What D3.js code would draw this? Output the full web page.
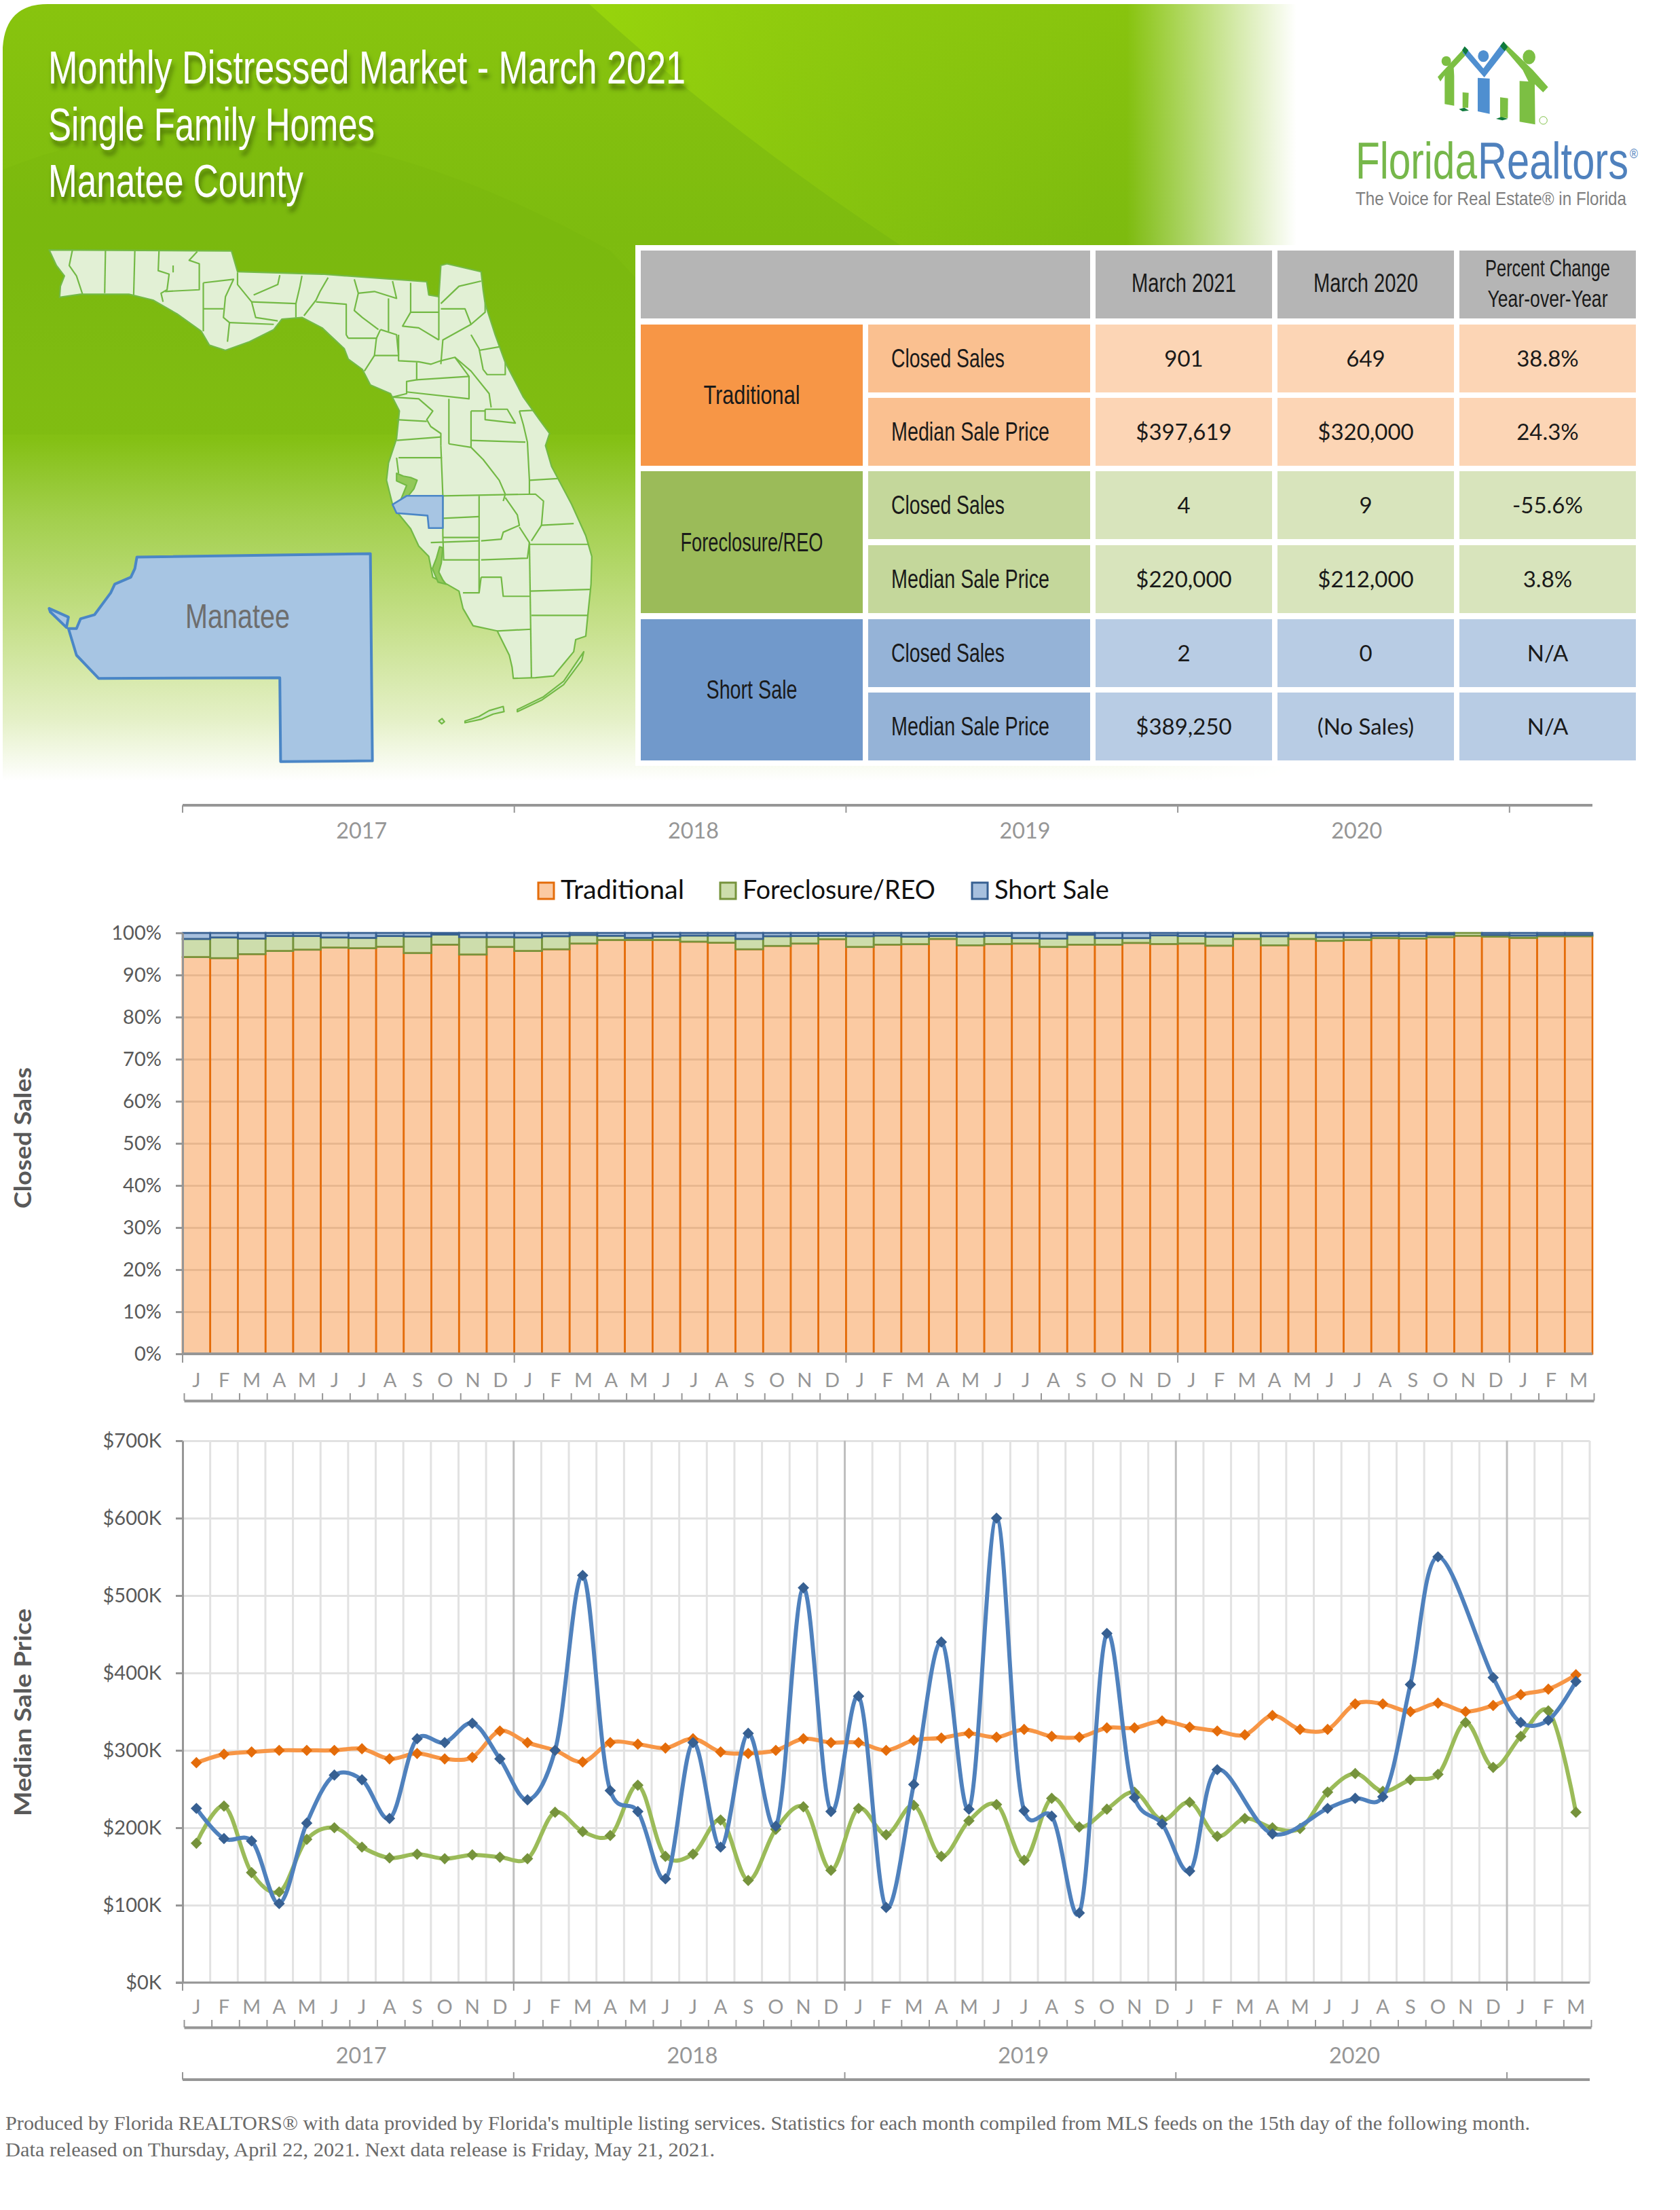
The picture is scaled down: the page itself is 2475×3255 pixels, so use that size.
<!DOCTYPE html>
<html>
<head>
<meta charset="utf-8">
<script src="https://cdn.jsdelivr.net/npm/d3@7"></script>
<style>
html, body { margin: 0; padding: 0; background: #fff; }
svg { display: block; }
text { font-family: Lato, "Open Sans", sans-serif; }
.narrow { font-family: "Liberation Sans Narrow", "Liberation Sans", sans-serif; }
.foot { font-family: "Liberation Serif", serif; fill: #6a6a6a; font-size: 30px; }
</style>
</head>
<body>
<div id="page"></div>
<script>
// ---- chart data ----
var monthLetters = ["J","F","M","A","M","J","J","A","S","O","N","D"];
var yearLabels = ["2017","2018","2019","2020"];
var monthCount = 51;
var percentTicks = [0,10,20,30,40,50,60,70,80,90,100];
var priceTicks = [0,100,200,300,400,500,600,700];
var seriesNames = ["Traditional","Foreclosure/REO","Short Sale"];

// closed sales, share of month in %
var traditionalShare = [94.25,94.0,94.95,95.7,96.0,96.5,96.35,96.7,95.2,97.2,94.85,96.65,
  95.7,96.1,97.45,98.3,98.3,98.3,97.9,97.65,96.1,96.9,97.45,98.5,
  96.65,97.2,97.3,98.55,97.05,97.35,97.45,96.65,97.2,97.2,97.6,97.35,
  97.45,96.95,98.55,97.05,98.55,98.1,98.3,98.75,98.65,99.0,99.3,99.1,
  98.8,99.2,99.2];
var foreclosureShare = [4.3,4.9,3.7,3.55,3.25,2.4,2.45,2.55,3.95,2.4,4.15,2.35,
  3.2,3.1,2.05,1.0,0.5,0.8,1.45,1.7,2.45,2.3,1.8,0.8,
  2.55,2.15,1.8,0.7,2.05,1.9,1.3,2.0,2.35,1.55,1.15,2.05,
  1.8,2.15,1.35,2.15,1.4,0.9,0.7,0.55,0.6,0.6,0.7,0.4,
  0.55,0.3,0.3];
var shortShare = [1.45,1.1,1.35,0.75,0.75,1.1,1.2,0.75,0.85,0.4,1.0,1.0,
  1.1,0.8,0.5,0.7,1.2,0.9,0.65,0.65,1.45,0.8,0.75,0.7,
  0.8,0.65,0.9,0.75,0.9,0.75,1.25,1.35,0.45,1.25,1.25,0.6,
  0.75,0.9,0.1,0.8,0.05,1.0,1.0,0.7,0.75,0.4,0,0.5,
  0.65,0.5,0.5];

// median sale price in $K, null = month without sales
var traditionalPrice = [284,295,298,300,300,300,302,289,296,289,291,325,
  310,300,285,310,308,303,315,298,296,300,315,310,
  310,300,313,316,322,317,327,318,317,329,329,338,
  330,325,320,345,327,327,360,360,350,361,350,358,
  372,379,397.6];
var foreclosurePrice = [180,228,142,117,185,200,175,161,166,160,165,162,
  160,220,195,190,255,163,166,210,132,198,227,145,
  225,191,229,163,209,230,158,238,201,224,246,210,
  233,189,212,200,199,246,270,247,262,269,336,278,
  318,351,220];
var shortPrice = [225,186,183,102,206,268,262,212,315,310,335,289,
  236,300,526,248,221,134,310,175,322,202,510,221,
  370,97,256,440,224,600,222,215,90,451,239,205,
  144,275,null,192,null,225,238,240,385,550,null,394,
  336,339,389];

// summary table
var tableColumns = ["March 2021","March 2020"];
var tableMeasures = ["Closed Sales","Median Sale Price"];
var tableThisYear = ["901","$397,619","4","$220,000","2","$389,250"];
var tableLastYear = ["649","$320,000","9","$212,000","0","(No Sales)"];
var tableChange = ["38.8%","24.3%","-55.6%","3.8%","N/A","N/A"];

// palette per series
var lineColors = ["#f79646","#9bbb59","#4f81bd"];
var markColors = ["#e46c0a","#76933c","#376092"];
var axisGray = "#969696", labelGray = "#595959";

var svg = d3.select("#page").append("svg").attr("width",2475).attr("height",3255);
var defs = svg.append("defs");

// small text helper, len forces the drawn width
function put(g, str, x, y, o) {
  o = o || {};
  var t = g.append("text").text(str).attr("x",x).attr("y",y)
    .attr("text-anchor",o.anchor || "middle")
    .attr("font-size",o.size || 30)
    .attr("fill",o.fill || "#1a1a1a");
  if (o.cls) t.attr("class",o.cls);
  if (o.weight) t.attr("font-weight",o.weight);
  if (o.len) t.attr("textLength",o.len).attr("lengthAdjust","spacingAndGlyphs");
  if (o.central !== false) t.attr("dominant-baseline","central");
  return t;
}
// squeeze a text to a width with a real transform, the logo words sit tight together
function squeeze(str, x, y, width, size, fill) {
  var t = svg.append("text").text(str).attr("class","narrow").attr("font-size",size).attr("fill",fill);
  var sx = width / t.node().getComputedTextLength();
  t.attr("transform","translate("+x+","+y+") scale("+sx+",1)");
  return t;
}

// ---- green banner ----
var vGrad = defs.append("linearGradient").attr("id","bannerV").attr("gradientUnits","userSpaceOnUse")
  .attr("x1",0).attr("y1",6).attr("x2",0).attr("y2",1150);
[[0,"#88c40e"],[0.3,"#7dbb0f"],[0.56,"#84c014"],[0.66,"#a2cf4c"],[0.8,"#c6e08b"],[0.92,"#e4f0c6"],[1,"#ffffff"]]
  .forEach(function(s){ vGrad.append("stop").attr("offset",s[0]).attr("stop-color",s[1]); });
var hGrad = defs.append("linearGradient").attr("id","bannerH").attr("gradientUnits","userSpaceOnUse")
  .attr("x1",1660).attr("y1",0).attr("x2",1910).attr("y2",0);
hGrad.append("stop").attr("offset",0).attr("stop-color","#fff");
hGrad.append("stop").attr("offset",1).attr("stop-color","#000");
defs.append("mask").attr("id","bannerMask").attr("maskUnits","userSpaceOnUse")
  .attr("x",0).attr("y",0).attr("width",2475).attr("height",1200)
  .append("rect").attr("width",2475).attr("height",1200).attr("fill","url(#bannerH)");
var streak = defs.append("linearGradient").attr("id","streak").attr("gradientUnits","userSpaceOnUse")
  .attr("x1",870).attr("y1",0).attr("x2",1650).attr("y2",120);
streak.append("stop").attr("offset",0).attr("stop-color","#a4e20a").attr("stop-opacity",0.55);
streak.append("stop").attr("offset",0.55).attr("stop-color","#98d20e").attr("stop-opacity",0.3);
streak.append("stop").attr("offset",1).attr("stop-color","#98d20e").attr("stop-opacity",0);
var banner = svg.append("g").attr("mask","url(#bannerMask)");
banner.append("path").attr("fill","url(#bannerV)")
  .attr("d","M4,1150 L4,70 Q8,6 70,6 L1910,6 L1910,1150 Z");
banner.append("path").attr("fill","url(#streak)")
  .attr("d","M868,6 L1900,6 L1900,370 L1340,370 Q1080,200 868,6 Z");
banner.append("path").attr("fill","#6fae0a").attr("fill-opacity",0.16)
  .attr("d","M4,250 Q400,90 900,370 L1150,640 L4,640 Z");

var shadow = defs.append("filter").attr("id","titleShadow").attr("x","-5%").attr("y","-30%").attr("width","110%").attr("height","170%");
shadow.append("feDropShadow").attr("dx",3).attr("dy",8).attr("stdDeviation",3).attr("flood-color","#2f4a00").attr("flood-opacity",0.6);

var titleG = svg.append("g").attr("filter","url(#titleShadow)");
put(titleG,"Monthly Distressed Market - March 2021",71,123,{anchor:"start",size:69,fill:"#fff",cls:"narrow",len:939,central:false});
put(titleG,"Single Family Homes",71,207,{anchor:"start",size:69,fill:"#fff",cls:"narrow",len:481,central:false});
put(titleG,"Manatee County",71,290,{anchor:"start",size:69,fill:"#fff",cls:"narrow",len:376,central:false});

// ---- logo ----
var logo = svg.append("g").attr("transform","translate(2080,50) scale(0.3333)");
var logoGreen = "#7cbf43", logoDark = "#0f7a3c", logoBlue = "#4f8fd0";
[[152,120,21,22],[518,102,28,32]].forEach(function(c){
  logo.append("ellipse").attr("cx",c[0]).attr("cy",c[1]).attr("rx",c[2]).attr("ry",c[3]).attr("fill",logoGreen);
});
logo.append("ellipse").attr("cx",316).attr("cy",98).attr("rx",24).attr("ry",26).attr("fill",logoBlue);
logo.append("path").attr("fill",logoGreen).attr("d","M114,190 L232,62 L246,85 L185,150 L187,185 L187,317 L145,310 L145,183 L126,210 Z");
logo.append("path").attr("fill",logoGreen).attr("d","M406,35 L535,160 L602,235 L580,258 L543,222 L545,400 L476,388 L476,208 L515,210 L490,160 L415,72 Z");
logo.append("path").attr("fill",logoBlue).attr("d","M238,60 L316,152 L398,42 L416,70 L320,192 L224,82 Z");
logo.append("path").attr("fill",logoBlue).attr("d","M291,194 L344,197 L344,353 L291,342 Z");
logo.append("path").attr("fill",logoGreen).attr("d","M224,258 L251,260 L249,326 L224,326 Z");
logo.append("path").attr("fill",logoGreen).attr("d","M390,280 L425,284 L424,372 L390,368 Z");
logo.append("path").attr("fill",logoDark).attr("d","M233,55 L250,72 L238,92 L222,72 Z M405,33 L424,58 L410,76 L390,54 Z M208,332 L232,326 L252,338 L224,342 Z M372,375 L395,367 L425,375 L400,382 Z");
logo.append("circle").attr("cx",581).attr("cy",382).attr("r",17).attr("fill","none").attr("stroke",logoGreen).attr("stroke-width",3);
squeeze("Florida",1997,263,179,76,"#76b74a");
squeeze("Realtors",2177,263,222,76,"#4f81bd");
squeeze("®",2401,233,12,20,"#4f81bd");
put(svg,"The Voice for Real Estate® in Florida",1997,302,{anchor:"start",size:28,fill:"#7f7f7f",cls:"narrow",len:399,central:false});

// ---- Florida map, hand traced, decoration only ----
var mapX = d3.scaleLinear().domain([0,1568]).range([0,930]);
var mapY = d3.scaleLinear().domain([0,1568]).range([340,1140]);
var mapLine = d3.line().x(function(d){ return mapX(d[0]); }).y(function(d){ return mapY(d[1]); });
var floridaOutline = [[122,55],[575,58],[590,118],[800,125],[1060,147],[1065,185],[1090,190],[1095,100],[1110,95],[1195,118],[1200,170],[1205,210],[1230,300],[1255,380],[1300,480],[1340,545],[1365,585],[1355,620],[1370,680],[1420,790],[1455,880],[1470,940],[1468,1020],[1460,1110],[1455,1170],[1430,1180],[1425,1215],[1400,1250],[1375,1285],[1330,1290],[1275,1292],[1272,1260],[1265,1225],[1235,1155],[1175,1140],[1150,1090],[1140,1040],[1110,1020],[1075,1000],[1065,940],[1040,910],[1020,860],[985,810],[975,790],[960,720],[965,670],[985,600],[992,520],[970,470],[920,445],[900,400],[865,370],[855,340],[800,280],[750,250],[700,255],[680,285],[620,320],[560,345],[520,330],[500,290],[440,240],[380,200],[320,183],[200,183],[148,192],[150,160],[160,130],[140,100]];
var countyLines = [
  [[180,55],[172,100],[190,130],[205,183]],[[262,55],[260,180]],[[335,55],[332,185]],
  [[395,57],[393,115],[420,125],[415,170],[400,180],[405,205]],[[490,60],[470,85],[495,95],[495,170],[410,175]],[[430,100],[430,120]],
  [[505,150],[505,290]],[[505,150],[580,140],[560,190],[555,250],[570,265],[565,320]],[[505,225],[555,225]],[[570,265],[680,270]],
  [[590,120],[590,155],[625,205],[635,250],[690,260]],[[625,205],[735,210]],[[695,128],[690,155],[630,185]],
  [[750,130],[745,160],[735,210],[735,250]],[[815,135],[795,175],[785,200],[755,245]],[[785,205],[860,212],[860,300],[865,310]],
  [[880,140],[890,180],[880,230],[900,250],[940,285]],[[890,180],[930,175],[985,195],[975,145]],[[965,195],[965,290]],
  [[1020,150],[1020,235],[1090,235]],[[1090,190],[1090,315]],[[1020,235],[1000,275],[1040,280],[1090,315]],
  [[1095,210],[1140,160],[1195,145]],[[1095,225],[1155,225],[1170,270],[1100,315],[1095,385]],[[1170,270],[1205,235],[1205,210]],
  [[1170,300],[1190,340],[1200,400],[1210,415],[1255,415],[1255,380]],[[1190,345],[1240,335]],
  [[865,310],[935,310],[945,285]],[[935,310],[930,360],[905,405]],[[945,285],[985,300],[990,360]],
  [[990,300],[990,375],[1040,378],[1070,385],[1095,375],[1130,365],[1170,405],[1215,470],[1220,510]],[[930,360],[990,360]],
  [[1035,380],[1035,430],[1010,435],[1010,470],[975,480]],[[1010,465],[1165,485],[1165,420],[1130,365]],[[1165,420],[1035,430]],
  [[1115,485],[1115,615]],[[975,480],[1040,485],[1075,520],[1060,545],[1070,565],[1095,585],[1095,620]],[[985,545],[1060,550]],[[985,605],[1095,595]],
  [[1095,620],[1100,765],[1100,880],[1102,950]],[[990,655],[1098,655]],[[985,655],[990,700]],
  [[1115,615],[1170,625],[1200,660],[1240,720],[1255,760],[1250,780]],[[1170,520],[1170,625]],[[1170,520],[1205,520]],
  [[1205,515],[1205,545],[1280,555],[1260,515],[1205,515]],[[1170,605],[1305,610]],[[1290,520],[1325,518]],[[1290,520],[1300,560],[1310,610],[1315,720],[1385,715]],[[1315,720],[1315,760]],
  [[1100,765],[1330,760],[1350,780],[1345,850],[1425,845]],[[1190,765],[1190,1045]],[[1255,770],[1285,820],[1290,850],[1250,870],[1245,890],[1195,895]],
  [[1290,855],[1315,900],[1310,945],[1195,950]],[[1315,900],[1320,1290]],[[1315,905],[1460,905]],[[1320,895],[1345,850]],
  [[1100,830],[1190,825]],[[1100,885],[1190,885]],[[1070,900],[1190,895]],[[1100,950],[1190,950]],
  [[1195,1000],[1245,1000],[1250,1055],[1315,1055]],[[1150,1045],[1190,1045],[1195,1000]],[[1315,1040],[1465,1035]],[[1320,1110],[1460,1110]],[[1235,1155],[1320,1150]]
];
var waterBlobs = [
  [[985,700],[1002,708],[1020,712],[1036,720],[1028,745],[1012,768],[992,786],[1003,755],[1010,735],[985,722]],
  [[1092,912],[1100,915],[1096,960],[1090,985],[1100,1008],[1108,1020],[1088,1014],[1074,975],[1084,945]]
];
var keysOutline = [
  [[1155,1415],[1190,1402],[1215,1385],[1250,1373],[1252,1388],[1225,1395],[1195,1410],[1155,1420]],
  [[1285,1382],[1350,1345],[1400,1300],[1450,1215],[1445,1240],[1400,1310],[1345,1355],[1285,1388]],
  [[1090,1415],[1098,1408],[1104,1417],[1097,1423]]
];
var manateeInset = [[975,790],[1010,765],[1100,765],[1100,858],[1065,858],[1062,822],[985,815]];
var manateeBig = [[340,942],[920,932],[925,1530],[697,1532],[695,1290],[245,1292],[190,1225],[170,1148],[190,1148],[200,1120],[235,1108],[275,1045],[285,1020],[325,1000],[335,975]];
var manateeTip = [[122,1090],[170,1115],[165,1145],[125,1100]];

var mapG = svg.append("g").attr("fill","none").attr("stroke","#73b945").attr("stroke-width",2.2).attr("stroke-linejoin","round");
mapG.append("path").attr("d",mapLine(floridaOutline)+"Z").attr("fill","#e2f0d5");
countyLines.forEach(function(l){ mapG.append("path").attr("d",mapLine(l)); });
waterBlobs.forEach(function(l){ mapG.append("path").attr("d",mapLine(l)+"Z").attr("fill","#93c95a"); });
keysOutline.forEach(function(l){ mapG.append("path").attr("d",mapLine(l)+"Z").attr("fill","#d7ebc6"); });
mapG.append("path").attr("d",mapLine(manateeInset)+"Z").attr("fill","#a7c5e3").attr("stroke","#4a86c6").attr("stroke-width",2.6);
mapG.append("path").attr("d",mapLine(manateeBig)+"Z").attr("fill","#a7c5e3").attr("stroke","#4a86c6").attr("stroke-width",4);
mapG.append("path").attr("d",mapLine(manateeTip)+"Z").attr("fill","#a7c5e3").attr("stroke","#4a86c6").attr("stroke-width",4);
put(svg,"Manatee",350,908,{size:50,fill:"#6e6e6e",cls:"narrow",len:154});

// ---- summary table ----
var tableX = [[944,1271],[1279,1606],[1614,1874],[1882,2142],[2150,2410]];
var tableY = [[478,578],[586,686],[694,794],[803,903],[912,1012],[1020,1120]];
var groupFill = ["#f79646","#9bbb59","#7199cb"];
var measureFill = ["#fac090","#c4d79b","#95b3d7"];
var valueFill = ["#fcd5b5","#d8e4bc","#b8cce4"];
var groupLen = [142,210,134];
var measureLen = [167,233];

svg.append("rect").attr("x",936).attr("y",361).attr("width",1490).attr("height",767).attr("fill","#fff");
function cell(col0,col1,y0,y1,fill) {
  svg.append("rect").attr("x",tableX[col0][0]).attr("y",y0).attr("width",tableX[col1][1]-tableX[col0][0]).attr("height",y1-y0).attr("fill",fill);
}
function midX(c){ return (tableX[c][0]+tableX[c][1])/2; }
cell(0,1,369,469,"#b5b5b5"); cell(2,2,369,469,"#b5b5b5"); cell(3,3,369,469,"#b5b5b5"); cell(4,4,369,469,"#b5b5b5");
put(svg,tableColumns[0],midX(2),417,{size:38,cls:"narrow",len:154});
put(svg,tableColumns[1],midX(3),417,{size:38,cls:"narrow",len:154});
put(svg,"Percent Change",midX(4),394,{size:35,cls:"narrow",len:184});
put(svg,"Year-over-Year",midX(4),439,{size:35,cls:"narrow",len:177});
seriesNames.forEach(function(name,g){
  var a = tableY[g*2], b = tableY[g*2+1];
  cell(0,0,a[0],b[1],groupFill[g]);
  put(svg,name,midX(0),(a[0]+b[1])/2,{size:38,cls:"narrow",len:groupLen[g]});
  [0,1].forEach(function(m){
    var r = tableY[g*2+m], i = g*2+m, cy = (r[0]+r[1])/2;
    cell(1,1,r[0],r[1],measureFill[g]);
    cell(2,2,r[0],r[1],valueFill[g]);
    cell(3,3,r[0],r[1],valueFill[g]);
    cell(4,4,r[0],r[1],valueFill[g]);
    put(svg,tableMeasures[m],1313,cy,{anchor:"start",size:38,cls:"narrow",len:measureLen[m]});
    put(svg,tableThisYear[i],midX(2),cy-1,{size:33});
    put(svg,tableLastYear[i],midX(3),cy-1,{size:33});
    put(svg,tableChange[i],midX(4),cy-1,{size:33});
  });
});

// ---- shared axis pieces ----
function yearBracket(xPos, yLine, dir) {
  // year separators hanging from a heavy line
  var g = svg.append("g");
  var n = d3.scaleLinear().domain([0,monthCount]).range(xPos.range());
  g.append("line").attr("x1",n(0)).attr("x2",n(monthCount)).attr("y1",yLine).attr("y2",yLine).attr("stroke",axisGray).attr("stroke-width",4);
  d3.range(0,monthCount,12).forEach(function(i){
    g.append("line").attr("x1",n(i)).attr("x2",n(i)).attr("y1",yLine).attr("y2",yLine+dir*11).attr("stroke",axisGray).attr("stroke-width",2);
  });
}
function monthLabels(xBand, y) {
  var g = svg.append("g").attr("transform","translate(0,"+y+")");
  g.call(d3.axisBottom(xBand).tickSize(0).tickPadding(0).tickFormat(function(i){ return monthLetters[i%12]; }));
  g.select(".domain").remove();
  g.selectAll("text").attr("y",0).attr("dy",0).attr("dominant-baseline","central")
    .attr("font-size",29).attr("fill",axisGray).style("font-family","Lato, sans-serif");
}
function monthTicks(xBand, yLine) {
  var n = d3.scaleLinear().domain([0,monthCount]).range([xBand.range()[0]+2,xBand.range()[1]+2]);
  var g = svg.append("g").attr("transform","translate(0,"+yLine+")");
  g.call(d3.axisTop(n).tickValues(d3.range(0,monthCount+1)).tickSize(11).tickSizeOuter(0).tickFormat(""));
  g.select(".domain").attr("stroke",axisGray).attr("stroke-width",4);
  g.selectAll(".tick line").attr("stroke",axisGray).attr("stroke-width",2);
}
function yearLabelRow(xPos, y) {
  var n = d3.scaleLinear().domain([0,monthCount]).range(xPos.range());
  yearLabels.forEach(function(lbl,i){
    put(svg,lbl,n(i*12+6.5)-1,y,{size:32,fill:axisGray,len:75});
  });
}
function valueAxis(yScale, left, fmt, ticks, plotRight, gridColor) {
  var grid = svg.append("g").attr("class","grid").attr("transform","translate("+left+",0)");
  grid.call(d3.axisLeft(yScale).tickValues(ticks).tickSize(-(plotRight-left)).tickFormat(""));
  grid.select(".domain").remove();
  grid.selectAll("line").attr("stroke",gridColor).attr("stroke-width",3);
  return function() {
    var g = svg.append("g").attr("transform","translate("+left+",0)");
    g.call(d3.axisLeft(yScale).tickValues(ticks).tickSize(10).tickPadding(21).tickSizeOuter(0).tickFormat(fmt));
    g.select(".domain").attr("stroke",axisGray).attr("stroke-width",3);
    g.selectAll(".tick line").attr("stroke",axisGray).attr("stroke-width",3);
    g.selectAll("text").attr("font-size",29).attr("fill",labelGray).style("font-family","Lato, sans-serif");
  };
}

// ---- closed sales, 100% stacked bars ----
var monthIdx = d3.range(monthCount);
var barX = d3.scaleBand().domain(monthIdx).range([269,2346]).padding(0);
var barY = d3.scaleLinear().domain([0,100]).range([1994,1374]);

yearBracket(barX,1186,1);
yearLabelRow(barX,1222);

var legendX = [792,1060,1431], legendTextX = [826,1094,1465], legendLen = [182,284,169];
seriesNames.forEach(function(name,i){
  svg.append("rect").attr("x",legendX[i]+1).attr("y",1300).attr("width",23).attr("height",24)
    .attr("fill",lineColors[i]).attr("fill-opacity",0.5).attr("stroke",markColors[i]).attr("stroke-width",3);
  put(svg,name,legendTextX[i],1309,{anchor:"start",size:38,fill:"#111",len:legendLen[i]});
});

var drawBarAxis = valueAxis(barY,269,function(d){ return d+"%"; },percentTicks,2346,"#d9d9d9");

var stackRows = monthIdx.map(function(i){
  return {i:i, traditional:traditionalShare[i], foreclosure:foreclosureShare[i], short:shortShare[i]};
});
var stacked = d3.stack().keys(["traditional","foreclosure","short"])(stackRows);
svg.selectAll(".layer").data(stacked).enter().append("g").attr("class","layer")
  .attr("fill",function(d,i){ return lineColors[i]; }).attr("fill-opacity",0.5)
  .attr("stroke",function(d,i){ return markColors[i]; }).attr("stroke-width",2.6)
  .selectAll("rect").data(function(d){ return d; }).enter().append("rect")
  .attr("x",function(d){ return barX(d.data.i); })
  .attr("width",barX.bandwidth())
  .attr("y",function(d){ return barY(d[1]); })
  .attr("height",function(d){ return barY(d[0])-barY(d[1]); });

drawBarAxis();
svg.append("line").attr("x1",269).attr("x2",2346).attr("y1",1994).attr("y2",1994).attr("stroke",axisGray).attr("stroke-width",4);
d3.range(0,monthCount,12).forEach(function(i){
  svg.append("line").attr("x1",barX(i)).attr("x2",barX(i)).attr("y1",1994).attr("y2",2007).attr("stroke",axisGray).attr("stroke-width",2);
});
monthLabels(barX,2031);
monthTicks(barX,2063);

put(svg,"Closed Sales",0,0,{size:35,fill:labelGray,weight:700,len:208})
  .attr("transform","translate(32,1676) rotate(-90)");

// ---- median sale price, smoothed lines ----
var priceX = d3.scaleBand().domain(monthIdx).range([269,2342]).padding(0);
var priceY = d3.scaleLinear().domain([0,700]).range([2920,2122]);
var drawPriceAxis = valueAxis(priceY,269,function(d){ return "$"+d+"K"; },priceTicks,2342,"#e2e2e2");

var priceEdge = d3.scaleLinear().domain([0,monthCount]).range([269,2342]);
d3.range(1,monthCount+1).forEach(function(i){
  var isYear = i%12===0 && i<monthCount;
  svg.append("line").attr("x1",priceEdge(i)).attr("x2",priceEdge(i)).attr("y1",2122).attr("y2",2920)
    .attr("stroke",isYear ? "#bfbfbf" : "#e2e2e2").attr("stroke-width",3);
});

var priceSeries = [traditionalPrice,foreclosurePrice,shortPrice];
var priceLine = d3.line()
  .x(function(d){ return priceX(d.i)+priceX.bandwidth()/2; })
  .y(function(d){ return priceY(d.v); })
  .curve(d3.curveCatmullRom.alpha(0.2));
var diamond = d3.symbol().type(d3.symbolSquare).size(140);

priceSeries.forEach(function(values,s){
  var pts = values.map(function(v,i){ return {i:i,v:v}; }).filter(function(d){ return d.v!==null; });
  svg.append("path").attr("d",priceLine(pts)).attr("fill","none")
    .attr("stroke",lineColors[s]).attr("stroke-width",6).attr("stroke-linecap","round");
  svg.selectAll(".mark"+s).data(pts).enter().append("path").attr("class","mark"+s)
    .attr("d",diamond).attr("fill",markColors[s])
    .attr("transform",function(d){ return "translate("+(priceX(d.i)+priceX.bandwidth()/2)+","+priceY(d.v)+") rotate(45)"; });
});

drawPriceAxis();
svg.append("line").attr("x1",259).attr("x2",2342).attr("y1",2920).attr("y2",2920).attr("stroke",axisGray).attr("stroke-width",3);
d3.range(0,monthCount,12).forEach(function(i){
  svg.append("line").attr("x1",priceEdge(i)).attr("x2",priceEdge(i)).attr("y1",2920).attr("y2",2932).attr("stroke",axisGray).attr("stroke-width",2);
});
monthLabels(priceX,2954);
monthTicks(priceX,2986);
yearLabelRow(priceX,3026);
yearBracket(priceX,3063,-1);

put(svg,"Median Sale Price",0,0,{size:35,fill:labelGray,weight:700,len:306})
  .attr("transform","translate(32,2522) rotate(-90)");

// ---- footnote ----
put(svg,"Produced by Florida REALTORS® with data provided by Florida's multiple listing services. Statistics for each month compiled from MLS feeds on the 15th day of the following month.",8,3126,{anchor:"start",cls:"foot",fill:"#6a6a6a",len:2246});
put(svg,"Data released on Thursday, April 22, 2021. Next data release is Friday, May 21, 2021.",8,3165,{anchor:"start",cls:"foot",fill:"#6a6a6a",len:1045});
</script>
</body>
</html>
